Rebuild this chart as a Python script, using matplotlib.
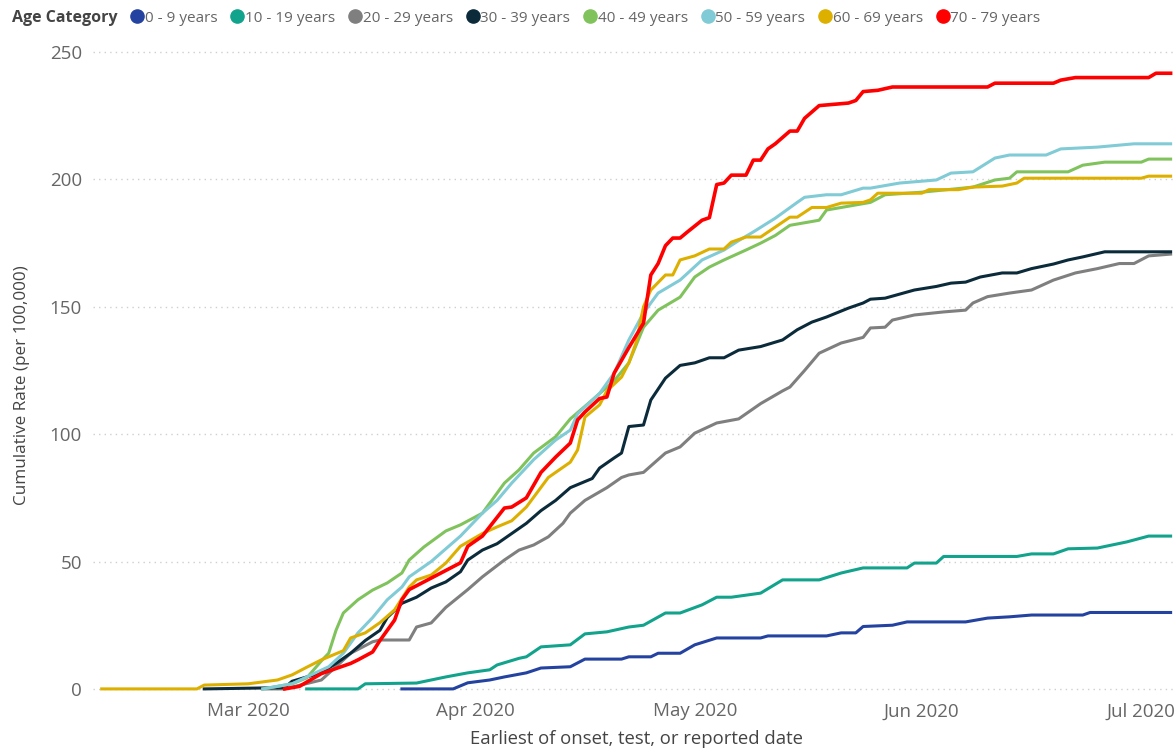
import pandas as pd
import matplotlib.pyplot as plt
import matplotlib.dates as mdates
from matplotlib.lines import Line2D

plt.rcParams['font.family'] = ['Open Sans', 'DejaVu Sans']

labels = ['0 - 9 years', '10 - 19 years', '20 - 29 years', '30 - 39 years',
          '40 - 49 years', '50 - 59 years', '60 - 69 years', '70 - 79 years']
colors = ['#2443A0', '#12A38C', '#7F7F7F', '#0B2B3B',
          '#80C35C', '#80CBD5', '#DDB000', '#FF0000']

# dates are month-day in 2020, values are cumulative rate per 100,000
d_0_9 = ['03-22', '03-29', '03-31', '04-03', '04-05', '04-08', '04-10', '04-14', '04-16',
         '04-21', '04-22', '04-25', '04-26', '04-29', '05-01', '05-04', '05-10', '05-11',
         '05-19', '05-21', '05-23', '05-24', '05-28', '05-30', '06-07', '06-10', '06-13',
         '06-16', '06-23', '06-24', '07-05']
v_0_9 = [0, 0, 2.4, 3.5, 4.7, 6.3, 8.2, 8.7, 11.7,
         11.7, 12.6, 12.6, 14, 14, 17.3, 20, 20, 20.8,
         20.8, 22, 22, 24.5, 25, 26.3, 26.3, 27.8, 28.3,
         29, 29, 30, 30]

d_10_19 = ['03-09', '03-16', '03-17', '03-24', '03-26', '03-28', '03-31', '04-03', '04-04',
           '04-07', '04-08', '04-10', '04-14', '04-16', '04-19', '04-22', '04-24', '04-27',
           '04-29', '05-02', '05-04', '05-06', '05-10', '05-13', '05-18', '05-21', '05-24',
           '05-30', '05-31', '06-03', '06-04', '06-14', '06-16', '06-19', '06-21', '06-25',
           '06-29', '07-02', '07-05']
v_10_19 = [0, 0, 2, 2.3, 3.5, 4.7, 6.3, 7.5, 9.4,
           12, 12.6, 16.5, 17.3, 21.6, 22.4, 24.3, 25, 29.8,
           29.8, 33, 36, 36, 37.6, 42.8, 42.8, 45.5, 47.5,
           47.5, 49.4, 49.4, 52, 52, 53, 53, 55, 55.3,
           57.7, 60, 60]

d_20_29 = ['03-03', '03-06', '03-11', '03-13', '03-15', '03-18', '03-19', '03-23', '03-24',
           '03-26', '03-28', '03-31', '04-02', '04-05', '04-07', '04-09', '04-11', '04-13',
           '04-14', '04-16', '04-19', '04-21', '04-22', '04-24', '04-27', '04-29', '05-01',
           '05-04', '05-07', '05-10', '05-13', '05-14', '05-16', '05-18', '05-21', '05-24',
           '05-25', '05-27', '05-28', '05-31', '06-04', '06-07', '06-08', '06-10', '06-13',
           '06-16', '06-19', '06-22', '06-25', '06-28', '06-30', '07-02', '07-05']
v_20_29 = [0, 0, 3.5, 8.7, 14, 18.5, 19.2, 19.2, 24.3,
           25.9, 32, 39, 44, 50.6, 54.5, 56.5, 59.7, 65,
           69, 74, 79, 83, 84, 85, 92.6, 95, 100.4,
           104.4, 106, 112, 117, 118.5, 125, 131.8, 135.8, 138,
           141.7, 142, 144.8, 146.8, 148, 148.7, 151.5, 154, 155.4,
           156.6, 160.5, 163.3, 165, 167, 167, 170, 170.7]

d_30_39 = ['02-24', '03-06', '03-07', '03-09', '03-11', '03-13', '03-15', '03-17', '03-19',
           '03-20', '03-22', '03-24', '03-26', '03-28', '03-30', '03-31', '04-02', '04-04',
           '04-06', '04-08', '04-10', '04-12', '04-14', '04-17', '04-18', '04-20', '04-21',
           '04-22', '04-24', '04-25', '04-27', '04-29', '05-01', '05-03', '05-05', '05-07',
           '05-10', '05-13', '05-15', '05-17', '05-19', '05-22', '05-24', '05-25', '05-27',
           '05-29', '05-31', '06-03', '06-05', '06-07', '06-09', '06-12', '06-14', '06-16',
           '06-19', '06-21', '06-23', '06-26', '07-05']
v_30_39 = [0, 0.5, 3, 4.7, 6.3, 10, 14, 19, 23,
           28, 33.6, 36, 39.6, 42, 46, 50.6, 54.5, 57,
           61, 65, 70, 74, 79, 82.6, 86.7, 90.7, 92.6,
           103, 103.6, 113.4, 122, 127, 128, 130, 130, 133,
           134.4, 137, 141, 144, 146, 149.5, 151.5, 153, 153.4,
           155, 156.6, 158, 159.3, 159.7, 161.7, 163.3, 163.3, 165,
           166.8, 168.4, 169.6, 171.6, 171.6]

d_40_49 = ['03-03', '03-07', '03-09', '03-11', '03-12', '03-13', '03-14', '03-16', '03-18',
           '03-20', '03-22', '03-23', '03-25', '03-28', '03-30', '04-02', '04-05', '04-07',
           '04-09', '04-12', '04-14', '04-17', '04-20', '04-22', '04-24', '04-26', '04-29',
           '05-01', '05-03', '05-05', '05-08', '05-10', '05-12', '05-14', '05-18', '05-19',
           '05-21', '05-25', '05-27', '06-01', '06-08', '06-11', '06-13', '06-14', '06-21',
           '06-23', '06-26', '07-01', '07-02', '07-05']
v_40_49 = [0, 2, 4.3, 11, 14, 23, 29.8, 35, 38.8,
           41.6, 45.5, 50.6, 55.7, 62, 64.4, 69, 80.8, 86,
           92.6, 99, 106, 113.4, 121, 128, 142, 148.7, 153.8,
           161.7, 165.6, 168.4, 172.3, 175, 178, 182, 184, 188,
           189, 191, 194, 195, 197, 199.8, 200.5, 203, 203,
           205.6, 206.8, 206.8, 208, 208]

d_50_59 = ['03-03', '03-07', '03-09', '03-12', '03-14', '03-16', '03-18', '03-20', '03-22',
           '03-23', '03-26', '03-28', '03-30', '04-01', '04-02', '04-04', '04-06', '04-09',
           '04-12', '04-14', '04-15', '04-18', '04-20', '04-22', '04-24', '04-26', '04-29',
           '05-02', '05-05', '05-07', '05-09', '05-12', '05-15', '05-16', '05-19', '05-21',
           '05-24', '05-25', '05-29', '06-03', '06-05', '06-08', '06-11', '06-13', '06-18',
           '06-20', '06-25', '06-30', '07-05']
v_50_59 = [0, 2, 4.7, 8.7, 14, 22, 28, 35, 40,
           44, 50, 55, 60, 66, 69, 74, 80.8, 90,
           97.7, 101.6, 108, 116, 124, 137, 147.6, 155.4, 160.5,
           168.4, 172.3, 176, 179.4, 184.8, 191, 193, 194, 194,
           196.6, 196.6, 198.6, 199.8, 202.5, 203, 208.4, 209.6, 209.6,
           212, 212.7, 214, 214]

d_60_69 = ['02-10', '02-23', '02-24', '03-01', '03-05', '03-07', '03-09', '03-11', '03-12',
           '03-14', '03-15', '03-17', '03-19', '03-21', '03-23', '03-24', '03-26', '03-28',
           '03-30', '04-02', '04-04', '04-06', '04-08', '04-11', '04-14', '04-15', '04-16',
           '04-18', '04-19', '04-21', '04-22', '04-23', '04-24', '04-25', '04-27', '04-28',
           '04-29', '05-01', '05-03', '05-05', '05-06', '05-08', '05-10', '05-12', '05-14',
           '05-15', '05-17', '05-19', '05-21', '05-24', '05-25', '05-26', '06-01', '06-02',
           '06-06', '06-08', '06-12', '06-14', '06-15', '07-01', '07-02', '07-05']
v_60_69 = [0, 0, 1.5, 2, 3.5, 5.5, 8.5, 11.4, 12.6,
           15, 20, 22, 26, 31, 40, 42.8, 44.7, 49.4,
           56, 61, 63.6, 66, 71.4, 83, 89, 93.8, 106.7,
           111.5, 117, 122.4, 128, 136, 150, 156.6, 162.5, 162.5,
           168.4, 170, 172.7, 172.7, 175.4, 177.4, 177.4, 181.3, 185.2,
           185.2, 189, 189, 190.7, 191, 192, 194.6, 194.6, 196,
           196, 197, 197.4, 198.6, 200.5, 200.5, 201.3, 201.3]

d_70_79 = ['03-06', '03-08', '03-11', '03-15', '03-16', '03-18', '03-19', '03-21', '03-22',
           '03-23', '03-25', '03-27', '03-30', '03-31', '04-02', '04-05', '04-06', '04-08',
           '04-10', '04-12', '04-14', '04-15', '04-16', '04-18', '04-19', '04-20', '04-22',
           '04-24', '04-25', '04-26', '04-27', '04-28', '04-29', '04-30', '05-02', '05-03',
           '05-04', '05-05', '05-06', '05-08', '05-09', '05-10', '05-11', '05-12', '05-14',
           '05-15', '05-16', '05-18', '05-22', '05-23', '05-24', '05-26', '05-28', '06-10',
           '06-11', '06-19', '06-20', '06-22', '07-02', '07-03', '07-05']
v_70_79 = [0, 1, 6, 10, 11.4, 14.5, 19, 27, 35,
           39, 42, 45, 49.5, 56, 60, 71, 71.4, 75,
           85, 91, 96.5, 105.6, 108.7, 114, 114.6, 124, 134,
           143.6, 162.5, 167, 174, 177, 177, 179.4, 184, 185,
           198, 198.6, 201.7, 201.7, 207.6, 207.6, 212, 214, 219,
           219, 224, 229, 230, 231, 234.5, 235, 236.3, 236.3,
           237.8, 237.8, 239, 240, 240, 241.7, 241.7]

series = [(d_0_9, v_0_9), (d_10_19, v_10_19), (d_20_29, v_20_29), (d_30_39, v_30_39),
          (d_40_49, v_40_49), (d_50_59, v_50_59), (d_60_69, v_60_69), (d_70_79, v_70_79)]

fig = plt.figure(figsize=(11.75, 7.51), dpi=100)
ax = fig.add_axes([0.0791, 0.0759, 0.9209, 0.8615])

for (d, v), c, lab in zip(series, colors, labels):
    x = pd.to_datetime(['2020-' + s for s in d])
    lw = 2.6 if c == '#FF0000' else 2.2
    ax.plot(x, v, color=c, lw=lw, label=lab, solid_joinstyle='round')

mar1 = pd.Timestamp('2020-03-01')
ax.set_xlim(mar1 - pd.Timedelta(days=21.2), mar1 + pd.Timedelta(days=126.6))
ax.set_ylim(-2, 252)
ax.set_yticks([0, 50, 100, 150, 200, 250])
ax.set_xticks(pd.to_datetime(['2020-03-01', '2020-04-01', '2020-05-01', '2020-06-01', '2020-07-01']))
ax.xaxis.set_major_formatter(mdates.DateFormatter('%b %Y'))
ax.yaxis.grid(True, linestyle=(0, (1, 3)), color='#cfcfcf', lw=1)
ax.set_axisbelow(True)
for s in ax.spines.values():
    s.set_visible(False)
ax.tick_params(length=0, labelcolor='#666666', labelsize=13.5)
ax.tick_params(axis='y', pad=8)
ax.tick_params(axis='x', pad=6)

fig.text(22 / 1175, 1 - 385 / 751, 'Cumulative Rate (per 100,000)', rotation=90,
         ha='center', va='center', fontsize=12.3, color='#444444')
fig.text(637 / 1175, 1 - 739 / 751, 'Earliest of onset, test, or reported date',
         ha='center', va='center', fontsize=13.3, color='#444444')

fig.text(12 / 1175, 1 - 18 / 751, 'Age Category', ha='left', va='center',
         fontsize=11.5, fontweight='bold', color='#444444')
handles = [Line2D([], [], marker='o', linestyle='', color=c, markersize=9.5) for c in colors]
fig.legend(handles, labels, loc='center left', bbox_to_anchor=(132 / 1175, 1 - 18 / 751),
           ncol=8, frameon=False, handlelength=0.7, handletextpad=0.15, columnspacing=0.95,
           fontsize=11, borderpad=0, borderaxespad=0, labelcolor='#666666')

fig.savefig('out.png', dpi=100)
